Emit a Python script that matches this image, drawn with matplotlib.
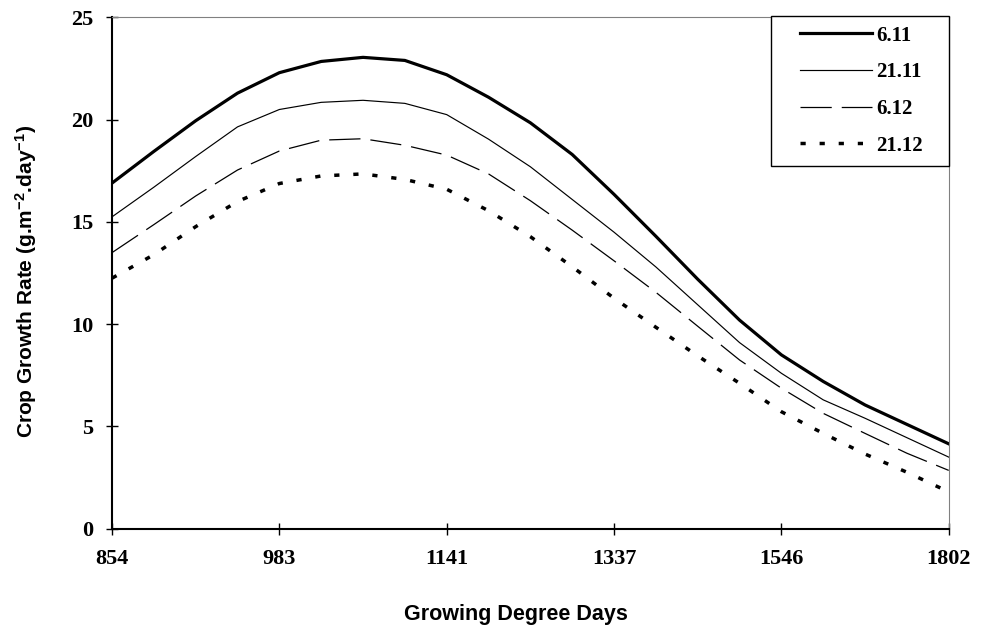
import matplotlib
matplotlib.use('Agg')
import matplotlib.pyplot as plt
from matplotlib.legend_handler import HandlerLine2D

plt.rcParams['mathtext.default'] = 'regular'

# growing degree days shown on the category axis
gdd_labels = ['854', '983', '1141', '1337', '1546', '1802']
gdd_pos = [0, 0.25, 0.5, 0.75, 1, 1.25, 1.5, 1.75, 2, 2.25, 2.5,
           2.75, 3, 3.25, 3.5, 3.75, 4, 4.25, 4.5, 4.75, 5]

# crop growth rate (g m-2 day-1) per sowing date
cgr_0611 = [16.9, 18.45, 19.95, 21.3, 22.3, 22.85, 23.05, 22.9, 22.2, 21.1, 19.85,
            18.3, 16.35, 14.3, 12.2, 10.2, 8.5, 7.2, 6.05, 5.1, 4.15]
cgr_2111 = [15.25, 16.7, 18.2, 19.65, 20.5, 20.85, 20.95, 20.8, 20.25, 19.05, 17.7,
            16.1, 14.5, 12.8, 10.95, 9.1, 7.6, 6.3, 5.4, 4.45, 3.5]
cgr_0612 = [13.5, 14.87, 16.27, 17.54, 18.47, 19.0, 19.07, 18.75, 18.27, 17.35, 16.04,
            14.6, 13.1, 11.56, 9.9, 8.25, 6.87, 5.64, 4.66, 3.69, 2.85]
cgr_2112 = [12.25, 13.4, 14.77, 16.0, 16.88, 17.25, 17.35, 17.08, 16.6, 15.55, 14.28,
            12.81, 11.27, 9.85, 8.45, 7.11, 5.72, 4.66, 3.65, 2.76, 1.8]

serif = {'family': 'Liberation Serif', 'weight': 'bold'}
sans = {'family': 'Liberation Sans', 'weight': 'bold'}

fig = plt.figure(figsize=(9.86, 6.29), dpi=100)
ax = fig.add_axes([0.1136, 0.1595, 0.8486, 0.8127])

ax.plot(gdd_pos, cgr_0611, color='black', lw=2.3, label='6.11')
ax.plot(gdd_pos, cgr_2111, color='black', lw=0.85, label='21.11')
ax.plot(gdd_pos, cgr_0612, color='black', lw=0.9, ls=(0, (25, 8)), label='6.12')
ax.plot(gdd_pos, cgr_2112, color='black', lw=2.5, ls=(0, (1.5, 4)), label='21.12')

ax.set_xlim(0, 5)
ax.set_ylim(0, 25)
ax.set_xticks(range(len(gdd_labels)))
ax.set_xticklabels(gdd_labels)
ax.set_yticks([0, 5, 10, 15, 20, 25])

ax.tick_params(direction='inout', length=8.6, width=1, labelsize=16)
ax.tick_params(axis='x', pad=10.5)
ax.tick_params(axis='y', pad=9)
for lab in ax.get_xticklabels() + ax.get_yticklabels():
    lab.set_fontfamily(serif['family'])
    lab.set_fontweight(serif['weight'])

for side in ['left', 'bottom']:
    ax.spines[side].set_linewidth(1.5)
    ax.spines[side].set_color('black')
for side in ['top', 'right']:
    ax.spines[side].set_linewidth(0.8)
    ax.spines[side].set_color('#808080')

ax.set_xlabel('Growing Degree Days', fontsize=15.5, **sans)
ax.xaxis.set_label_coords(0.483, -0.1688)
ax.xaxis.label.set_verticalalignment('center')
ax.set_ylabel(r'Crop Growth Rate (g.m$^{-2}$.day$^{-1}$)', fontsize=15, **sans)
ax.yaxis.set_label_coords(-0.1028, 0.4826)
ax.yaxis.label.set_verticalalignment('center')

handles, labels = ax.get_legend_handles_labels()
leg = fig.legend(handles, labels, loc='upper left',
                 bbox_to_anchor=(771 / 986, 0.3, 178 / 986, 1 - 15.7 / 629 - 0.3),
                 bbox_transform=fig.transFigure, mode='expand',
                 borderaxespad=0, borderpad=0.48, handlelength=4.39,
                 handletextpad=0.19, labelspacing=0.8, fancybox=False,
                 edgecolor='black', framealpha=1,
                 prop={'family': 'Liberation Serif', 'weight': 'bold', 'size': 15},
                 handler_map={h: HandlerLine2D(xpad=0.91) for h in handles})
leg.get_frame().set_linewidth(1.0)

fig.savefig('out.png', dpi=100)
